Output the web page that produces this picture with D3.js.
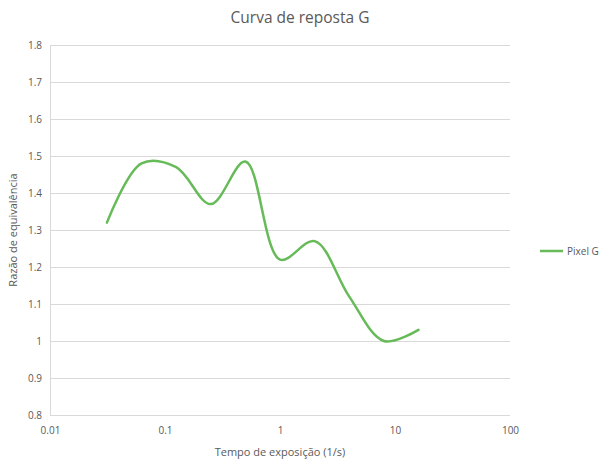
<!DOCTYPE html>
<html>
<head>
<meta charset="utf-8">
<script src="https://cdn.jsdelivr.net/npm/d3@7"></script>
<style>
  html, body { margin: 0; padding: 0; background: #fff; }
  text { font-family: "Open Sans", "Noto Sans", sans-serif; fill: #595959; }
</style>
</head>
<body>
<svg id="chart" width="602" height="463"></svg>
<script>
// Exposure times (1/s) and the measured equivalence ratio of the G pixel
const exposure = [1/32, 1/16, 1/8, 1/4, 1/2, 1, 2, 4, 8, 16];
const ratioG = [1.32, 1.48, 1.47, 1.37, 1.485, 1.22, 1.27, 1.12, 1.0, 1.03];
const xTicks = [0.01, 0.1, 1, 10, 100];
const yTicks = [0.8, 0.9, 1.0, 1.1, 1.2, 1.3, 1.4, 1.5, 1.6, 1.7, 1.8];
const seriesName = "Pixel G";

const svg = d3.select("#chart");
const plot = { left: 50, right: 510, top: 45, bottom: 415 };

const x = d3.scaleLog().domain([0.01, 100]).range([plot.left, plot.right]);
const y = d3.scaleLinear().domain([0.8, 1.8]).range([plot.bottom, plot.top]);

// horizontal gridlines
svg.append("g")
  .selectAll("line")
  .data(yTicks)
  .join("line")
  .attr("x1", plot.left).attr("x2", plot.right)
  .attr("y1", d => y(d)).attr("y2", d => y(d))
  .attr("stroke", "#d9d9d9").attr("stroke-width", 1)
  .attr("shape-rendering", "crispEdges");

// left axis line
svg.append("line")
  .attr("x1", plot.left).attr("x2", plot.left)
  .attr("y1", plot.top).attr("y2", plot.bottom)
  .attr("stroke", "#d9d9d9").attr("stroke-width", 1)
  .attr("shape-rendering", "crispEdges");

// y tick labels
const yAxis = d3.axisLeft(y).tickValues(yTicks).tickSize(0).tickPadding(8)
  .tickFormat(d => d3.format("~g")(d));
const gy = svg.append("g").attr("transform", `translate(${plot.left},0)`).call(yAxis);
gy.select(".domain").remove();
gy.selectAll("text").attr("font-size", 10).style("font-family", '"Open Sans", sans-serif').attr("fill", "#595959");

// x tick labels
const xAxis = d3.axisBottom(x).tickValues(xTicks).tickSize(0).tickPadding(12)
  .tickFormat(d => d3.format("~g")(d));
const gx = svg.append("g").attr("transform", `translate(0,${plot.bottom})`).call(xAxis);
gx.select(".domain").remove();
gx.selectAll("text").attr("font-size", 10).style("font-family", '"Open Sans", sans-serif').attr("fill", "#595959");

// series line, smoothed through the measured points
const line = d3.line()
  .x((d, i) => x(exposure[i]))
  .y(d => y(d))
  .curve(d3.curveCatmullRom.alpha(0.5));

svg.append("path")
  .datum(ratioG)
  .attr("d", line)
  .attr("fill", "none")
  .attr("stroke", "#66bb58")
  .attr("stroke-width", 2.5)
  .attr("stroke-linecap", "round");

// title
svg.append("text")
  .attr("x", 300).attr("y", 23)
  .attr("text-anchor", "middle")
  .attr("font-size", 15.5)
  .text("Curva de reposta G");

// axis titles
svg.append("text")
  .attr("x", (plot.left + plot.right) / 2).attr("y", 456)
  .attr("text-anchor", "middle")
  .attr("font-size", 11)
  .text("Tempo de exposição (1/s)");

svg.append("text")
  .attr("transform", `translate(17,${(plot.top + plot.bottom) / 2}) rotate(-90)`)
  .attr("text-anchor", "middle")
  .attr("font-size", 11)
  .text("Razão de equivalência");

// legend
const legend = svg.append("g").attr("transform", "translate(540,251)");
legend.append("line")
  .attr("x1", 0).attr("x2", 23).attr("y1", 0).attr("y2", 0)
  .attr("stroke", "#66bb58").attr("stroke-width", 2.5);
legend.append("text")
  .attr("x", 27).attr("y", 3.5)
  .attr("font-size", 10)
  .text(seriesName);
</script>
</body>
</html>
